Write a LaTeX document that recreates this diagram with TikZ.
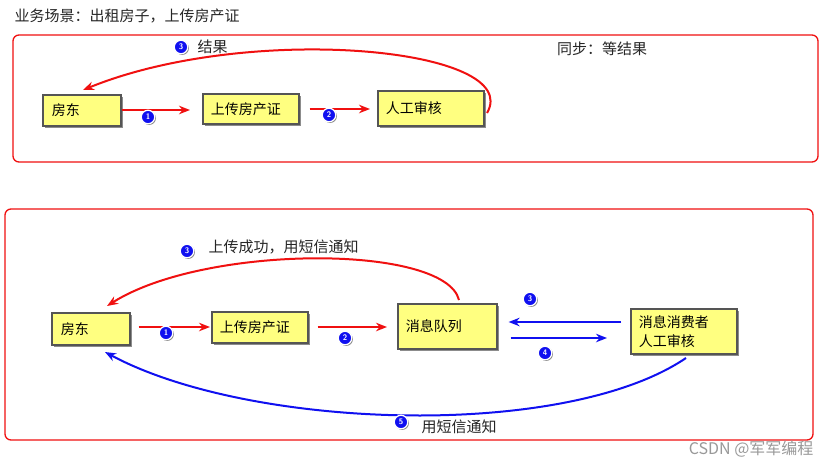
\documentclass[tikz,border=0pt]{standalone}
\usepackage{fontspec}
\setmainfont{Noto Sans CJK SC}
\usetikzlibrary{arrows.meta,shadows}
\definecolor{boxfill}{HTML}{FFFF80}
\definecolor{boxline}{HTML}{555555}
\definecolor{myred}{HTML}{F01010}
\definecolor{myblue}{HTML}{1010F0}
\tikzset{
  box/.style={draw=boxline, line width=1.6pt, fill=boxfill, anchor=north west,
    inner xsep=8pt, align=left, font=\fontsize{14}{17}\selectfont,
    drop shadow={shadow xshift=2pt, shadow yshift=-2pt, opacity=0.45, fill=black}},
  frame/.style={draw=myred, line width=1.3pt, rounded corners=6pt},
  redarr/.style={draw=myred, line width=2pt, -{Stealth[length=11pt,width=8.5pt]}},
  bluearr/.style={draw=myblue, line width=2pt, -{Stealth[length=11pt,width=8.5pt]}},
  num/.style={circle, fill=myblue, draw=white, line width=1.2pt, text=white,
    inner sep=0pt, minimum size=13.5pt, font=\sffamily\bfseries\fontsize{8}{8}\selectfont,
    drop shadow={shadow xshift=1.2pt, shadow yshift=-1.2pt, opacity=0.45, fill=black}},
  lbl/.style={anchor=west, font=\fontsize{15}{18}\selectfont, text=black!85},
}
\begin{document}
\begin{tikzpicture}[x=1pt,y=-1pt]
\useasboundingbox (0,0) rectangle (830,467);
\fill[white] (0,0) rectangle (830,467);

% ---------- top ----------
\node[lbl, anchor=west] (title) at (11,16) {业务场景：出租房子，上传房产证};
\draw[frame] (13,35) rectangle (818,162);
\node[lbl, anchor=center] (sync) at (602,49) {同步：等结果};

\node[box, minimum width=78pt, minimum height=31pt, text width=60pt] (fd1) at (42,94) {房东};
\node[box, minimum width=95pt, minimum height=30pt, text width=80pt] (sc1) at (202,93) {上传房产证};
\node[box, minimum width=106pt, minimum height=35pt, text width=90pt] (rg1) at (377,90) {人工审核};

\draw[redarr, shorten >=12pt] (fd1.east |- 0,110) -- (sc1.west |- 0,110);
\node[num] (n11) at (148,117) {1};
\draw[redarr, shorten <=10pt, shorten >=7pt] (sc1.east |- 0,109) -- (rg1.west |- 0,109);
\node[num] (n12) at (329,115) {2};

\coordinate (c1s) at (487,113);
\coordinate (c1e) at (83,90);
\draw[redarr] (c1s) .. controls (525,48) and (250,22) .. (c1e);
\node[num] (n13) at (181,47) {3};
\node[lbl] (res) at (194,47) {结果};

% ---------- bottom ----------
\draw[frame] (5,209) rectangle (813,440);

\node[box, minimum width=78pt, minimum height=32pt, text width=60pt] (fd2) at (51,312) {房东};
\node[box, minimum width=96pt, minimum height=31pt, text width=80pt] (sc2) at (211,311) {上传房产证};
\node[box, minimum width=99pt, minimum height=45pt, text width=83pt] (mq) at (397,303) {消息队列};
\node[box, minimum width=106pt, minimum height=45pt, text width=90pt,
      font=\fontsize{14}{19}\selectfont] (cons) at (630,308) {消息消费者\\人工审核};

\draw[redarr, shorten <=8pt, shorten >=1pt] (fd2.east |- 0,327) -- (sc2.west |- 0,327);
\node[num] (n21) at (166,333) {1};
\draw[redarr, shorten <=9pt, shorten >=10pt] (sc2.east |- 0,327) -- (mq.west |- 0,327);
\node[num] (n22) at (345,338) {2};

\coordinate (c2s) at (459,300);
\coordinate (c2e) at (107,306);
\draw[redarr] (c2s) .. controls (445,244) and (205,244) .. (c2e);
\node[num] (n23) at (187,251) {3};
\node[lbl] (ok) at (205,247) {上传成功，用短信通知};

\draw[bluearr, shorten <=9pt, shorten >=11pt] (cons.west |- 0,322) -- (mq.east |- 0,322);
\node[num] (n33) at (530,299) {3};
\draw[bluearr, shorten <=13pt, shorten >=23pt] (mq.east |- 0,338) -- (cons.west |- 0,338);
\node[num] (n34) at (545,353) {4};

\coordinate (c3s) at (686,358);
\coordinate (c3e) at (105,352);
\draw[bluearr] (c3s) .. controls (565,440) and (250,430) .. (c3e);
\node[num] (n35) at (401,422) {5};
\node[lbl] (sms) at (418,427) {用短信通知};

\node[anchor=east, text=black!40, font=\fontsize{16}{18}\selectfont] (wm) at (817,449) {CSDN @军军编程};
\end{tikzpicture}
\end{document}
